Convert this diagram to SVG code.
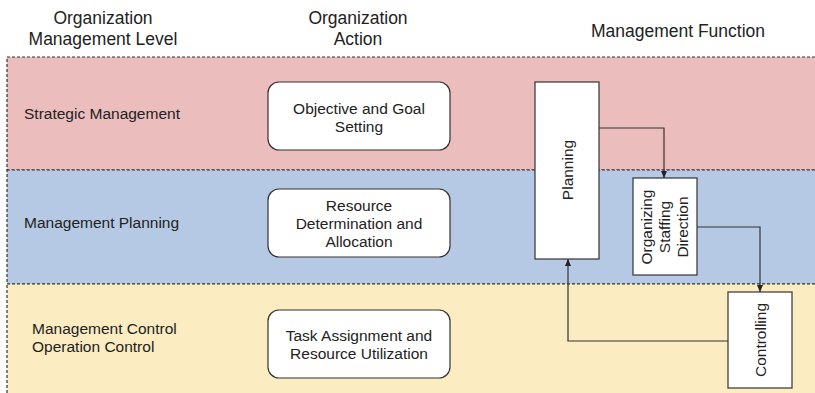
<svg xmlns="http://www.w3.org/2000/svg" width="815" height="393" viewBox="0 0 815 393">
<defs>
<style>
text{font-family:"Liberation Sans",Arial,sans-serif;fill:#222;}
.h{font-size:17.5px;text-anchor:middle;}
.l{font-size:15.5px;}
.c{font-size:15.5px;text-anchor:middle;}
.band{stroke:#333;stroke-width:1.2;stroke-dasharray:3 2;}
.box{fill:#fff;stroke:#333;stroke-width:1.2;}
.fn{fill:#fff;stroke:#333;stroke-width:1.2;}
.conn{fill:none;stroke:#333;stroke-width:1.2;}
</style>
<marker id="ah" markerWidth="8" markerHeight="8" refX="7" refY="4" orient="auto" markerUnits="userSpaceOnUse">
<path d="M0,1 L7,4 L0,7 Z" fill="#222"/>
</marker>
</defs>
<rect width="815" height="393" fill="#fff"/>
<g id="headers">
<text class="h" x="103" y="24">Organization</text>
<text class="h" x="103" y="45">Management Level</text>
<text class="h" x="358" y="24">Organization</text>
<text class="h" x="358" y="45">Action</text>
<text class="h" x="678" y="37">Management Function</text>
</g>
<g id="bands">
<rect class="band" x="7" y="57" width="812" height="113" fill="#ecbdbd"/>
<rect class="band" x="7" y="170" width="812" height="114" fill="#b6c9e4"/>
<rect class="band" x="7" y="284" width="812" height="115" fill="#fbecc1"/>
</g>
<g id="level-labels">
<text class="l" x="24" y="119">Strategic Management</text>
<text class="l" x="24" y="228">Management Planning</text>
<text class="l" x="32" y="334">Management Control</text>
<text class="l" x="32" y="352">Operation Control</text>
</g>
<g id="node-objective">
<rect class="box" x="268" y="82" width="182" height="68" rx="11"/>
<text class="c" x="359" y="114">Objective and Goal</text>
<text class="c" x="359" y="132">Setting</text>
</g>
<g id="node-resource">
<rect class="box" x="268" y="189" width="182" height="68" rx="11"/>
<text class="c" x="359" y="211">Resource</text>
<text class="c" x="359" y="229">Determination and</text>
<text class="c" x="359" y="247">Allocation</text>
</g>
<g id="node-task">
<rect class="box" x="268" y="310" width="182" height="68" rx="11"/>
<text class="c" x="359" y="341">Task Assignment and</text>
<text class="c" x="359" y="359">Resource Utilization</text>
</g>
<g id="node-planning">
<rect class="fn" x="535" y="82" width="64" height="177"/>
<text class="c" transform="translate(573,170) rotate(-90)">Planning</text>
</g>
<g id="node-organizing">
<rect class="fn" x="633" y="178" width="64" height="97"/>
<text class="c" transform="translate(652,227) rotate(-90)">Organizing</text>
<text class="c" transform="translate(670,227) rotate(-90)">Staffing</text>
<text class="c" transform="translate(688,227) rotate(-90)">Direction</text>
</g>
<g id="node-controlling">
<rect class="fn" x="728" y="292" width="64" height="96"/>
<text class="c" transform="translate(766,340) rotate(-90)">Controlling</text>
</g>
<g id="connectors">
<path class="conn" d="M599,128 H664 V178" marker-end="url(#ah)"/>
<path class="conn" d="M697,227 H760 V292" marker-end="url(#ah)"/>
<path class="conn" d="M728,341 H568 V259" marker-end="url(#ah)"/>
</g>
</svg>
